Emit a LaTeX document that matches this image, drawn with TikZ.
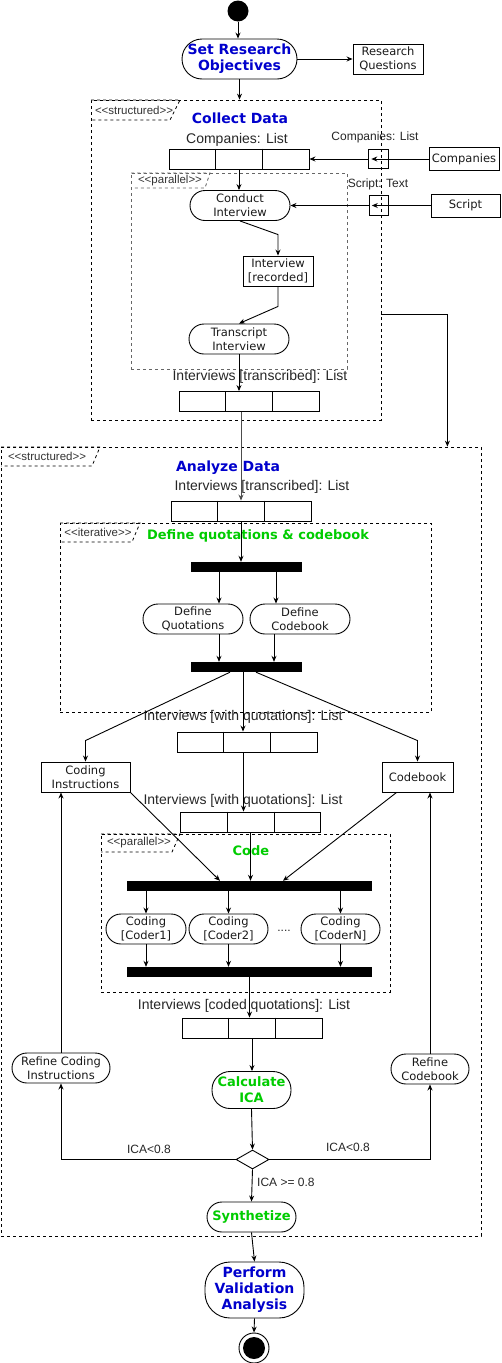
\documentclass[tikz,border=0pt]{standalone}
\usepackage{fontspec}
\setmainfont{Liberation Sans}
\newfontfamily\dv{DejaVu Sans}
\usetikzlibrary{arrows.meta,calc,shapes.geometric}
\definecolor{tblue}{RGB}{0,0,204}
\definecolor{tgreen}{RGB}{0,204,0}
\tikzset{
  base/.style={draw, line width=0.9pt, inner sep=0pt, align=center, text=black!90, font=\dv\fontsize{11.5}{14}\selectfont},
  act/.style={base, rectangle, rounded corners=15pt, minimum height=30pt},
  obj/.style={base, rectangle, minimum height=30pt},
  lst/.style={draw, line width=0.9pt, minimum width=140pt, minimum height=20pt, inner sep=0pt},
  bar/.style={fill=black, draw=none, inner sep=0pt, minimum height=10pt},
  frame/.style={draw, dash pattern=on 3pt off 3pt, line width=0.8pt, inner sep=0pt},
  tagtxt/.style={font=\fontsize{11.5}{12}\selectfont, text=black!80, inner sep=0pt},
  lbl/.style={font=\fontsize{14}{16}\selectfont, inner sep=0pt, text=black!85},
  slbl/.style={font=\fontsize{12}{14}\selectfont, inner sep=0pt, text=black!85},
  bluet/.style={font=\dv\bfseries\fontsize{14}{16}\selectfont, text=tblue},
  greent/.style={font=\dv\bfseries\fontsize{13}{16}\selectfont, text=tgreen},
  arr/.style={-{Stealth[length=6pt,width=5pt]}, line width=0.9pt},
  ln/.style={line width=0.9pt},
}
\newcommand{\mklist}[2]{%
  \node[lst] (#1) at (#2) {};
  \draw[ln] ($(#1.north west)!1/3!(#1.north east)$) -- ($(#1.south west)!1/3!(#1.south east)$);
  \draw[ln] ($(#1.north west)!2/3!(#1.north east)$) -- ($(#1.south west)!2/3!(#1.south east)$);
}
\newcommand{\stereo}[1]{<\kern0pt<#1>\kern0pt>}
\begin{document}
\begin{tikzpicture}[x=1pt,y=-1pt]
\useasboundingbox (0,0) rectangle (501,1363);

% ---------- frames ----------
\node[frame, minimum width=290pt, minimum height=320pt] (cd) at (236,260) {};
\draw[frame] (91,100) -- (180,100) -- (170,120) -- (91,120);
\node[tagtxt] (tagcd) at (134,110) {\stereo{structured}};

\node[frame, draw=black!60, minimum width=216pt, minimum height=196pt] (par1) at (239,271) {};
\draw[frame, draw=black!60] (131,173) -- (210,173) -- (205,188) -- (131,188);
\node[tagtxt] (tagp1) at (170,180.5) {\stereo{parallel}};

\node[frame, minimum width=480pt, minimum height=789pt] (ad) at (241,841.5) {};
\draw[frame] (1,447) -- (100,447) -- (92,466) -- (1,466);
\node[tagtxt] (tagad) at (47,456) {\stereo{structured}};

\node[frame, minimum width=371pt, minimum height=189pt] (it) at (245.5,617.5) {};
\draw[frame] (60,523) -- (140,523) -- (132,542) -- (60,542);
\node[tagtxt] (tagit) at (98,532) {\stereo{iterative}};

\node[frame, minimum width=289pt, minimum height=158pt] (par2) at (245.5,913) {};
\draw[frame] (101,834) -- (180,834) -- (172,852) -- (101,852);
\node[tagtxt] (tagp2) at (139,843) {\stereo{parallel}};

% ---------- top ----------
\node[circle, fill=black, minimum size=21pt, inner sep=0pt] (start) at (238,11) {};
\node[act, rounded corners=20pt, minimum width=115pt, minimum height=40pt, bluet] (sro) at (239.5,59) {Set Research\\Objectives};
\node[obj, minimum width=70pt] (rq) at (388,59) {Research\\Questions};

% ---------- collect data ----------
\node[bluet] (cdt) at (240,118) {Collect Data};
\node[lbl] (lcl) at (237,140) {Companies: List};
\mklist{lc}{239,159}
\node[draw, line width=0.9pt, minimum size=19.5pt, inner sep=0pt] (pin1) at (378.5,159) {};
\node[slbl] (pin1l) at (375,137) {Companies: List};
\node[obj, minimum width=70pt, minimum height=23pt] (comp) at (464,159) {Companies};
\node[draw, line width=0.9pt, minimum size=19.5pt, inner sep=0pt] (pin2) at (379,205.5) {};
\node[slbl] (pin2l) at (378,184) {Script: Text};
\node[obj, minimum width=69pt, minimum height=23pt] (script) at (465.5,205.5) {Script};
\node[act, minimum width=100pt] (conduct) at (240,205.5) {Conduct\\Interview};
\node[obj, minimum width=70pt] (rec) at (278,271) {Interview\\{[recorded]}};
\node[act, minimum width=100pt] (trans) at (239,339) {Transcript\\Interview};
\node[lbl] (ltl) at (260,377) {Interviews [transcribed]: List};
\mklist{lt}{249,401.5}

% ---------- analyze data ----------
\node[bluet] (adt) at (228,468) {Analyze Data};
\node[lbl] (ldl) at (262,487) {Interviews [transcribed]: List};
\mklist{ld}{241,511}
\node[greent] (itt) at (258,536) {Define quotations \& codebook};
\node[bar, minimum width=111pt] (f1) at (246.5,567) {};
\node[act, minimum width=100pt] (dq) at (193,619) {Define\\Quotations};
\node[act, minimum width=100pt] (dc) at (300,619) {Define\\Codebook};
\node[bar, minimum width=111pt] (j1) at (246.5,667) {};

\node[lbl] (l1l) at (243,717) {Interviews [with quotations]: List};
\mklist{l1}{247,742}
\node[obj, minimum width=89pt] (ci) at (85.5,777) {Coding\\Instructions};
\node[obj, minimum width=71pt] (cb) at (417.5,777) {Codebook};
\node[lbl] (l2l) at (243,801) {Interviews [with quotations]: List};
\mklist{l2}{250.5,822}

\node[greent] (codet) at (251,851) {Code};
\node[bar, minimum width=245pt] (f2) at (249.5,886) {};
\node[act, minimum width=80pt] (c1) at (146,929) {Coding\\{[Coder1]}};
\node[act, minimum width=79pt] (c2) at (228.5,929) {Coding\\{[Coder2]}};
\node[slbl] (dots) at (284,931) {....};
\node[act, minimum width=79pt] (cn) at (340.5,929) {Coding\\{[CoderN]}};
\node[bar, minimum width=245pt] (j2) at (249.5,972) {};

\node[lbl] (l3l) at (244,1006) {Interviews [coded quotations]: List};
\mklist{l3}{252,1028}
\node[act, rounded corners=18pt, minimum width=79pt, minimum height=37pt, greent] (ica) at (251.5,1090) {Calculate\\ICA};
\node[act, minimum width=98pt] (rci) at (61,1068) {Refine Coding\\Instructions};
\node[act, minimum width=78pt] (rcb) at (430,1069) {Refine\\Codebook};
\node[draw, diamond, line width=0.9pt, minimum width=33pt, minimum height=19pt, inner sep=0pt] (dia) at (252.5,1159.5) {};
\node[slbl] (ical) at (149,1149) {ICA<0.8};
\node[slbl] (icar) at (348,1147) {ICA<0.8};
\node[slbl, anchor=west] (icad) at (257,1182) {ICA >= 0.8};
\node[act, minimum width=89pt, greent] (syn) at (251.5,1217) {Synthetize};

\node[act, rounded corners=25pt, minimum width=99pt, minimum height=56pt, bluet] (pva) at (254.5,1290) {Perform\\Validation\\Analysis};
\node[circle, draw, line width=0.9pt, minimum size=30pt, inner sep=0pt] (endn) at (254,1348) {};
\fill (endn.center) circle (11pt);

% ---------- connectors ----------
\draw[arr] (start.south) -- (start.south |- sro.north);
\draw[arr] (sro.east) -- (rq.west);
\draw[arr] (sro.south) -- (sro.south |- cd.north);
\draw[arr] (comp.west) -- ([xshift=3pt]pin1.west);
\draw[arr] (pin1.west) -- (lc.east);
\draw[arr] (script.west) -- ([xshift=3pt]pin2.west);
\draw[arr] (pin2.west) -- (conduct.east);
\draw[arr] (lc.south) -- (lc.south |- conduct.north);
\draw[arr] (conduct.south) -- ([yshift=21pt]rec.north) -- (rec.north);
\draw[arr] (rec.south) -- ([yshift=-20pt]rec.south) -- (trans.north);
\draw[arr] (trans.south) -- (trans.south |- lt.north);
\draw[arr, draw=black!70] (ld.north |- lt.south) -- (ld.north);
\draw[arr] ([yshift=-54pt]cd.east) -| ([xshift=-34pt]ad.north east);

\draw[arr] (ld.south) -- (ld.south |- f1.north);
\draw[arr] ([xshift=-27.5pt]f1.south) -- ([xshift=-27.5pt]f1.south |- dq.north);
\draw[arr] ([xshift=29.5pt]f1.south) -- ([xshift=29.5pt]f1.south |- dc.north);
\draw[arr] ([xshift=26pt]dq.south) -- ([xshift=26pt]dq.south |- j1.north);
\draw[arr] ([xshift=-26pt]dc.south) -- ([xshift=-26pt]dc.south |- j1.north);
\draw[arr] ([xshift=-16.5pt]j1.south) -- ([yshift=21pt]ci.north) -- (ci.north);
\draw[arr] ([xshift=-3.5pt]j1.south) -- ([xshift=-3.5pt]j1.south |- l1.north);
\draw[arr] ([xshift=9.5pt]j1.south) -- ([yshift=21pt]cb.north) -- (cb.north);
\draw[arr] ([xshift=-3.5pt]l1.south) -- ([xshift=-3.5pt]l1.south |- l2.north);
\draw[arr] (ci.south east) -- ([xshift=-29.5pt]f2.north);
\draw[arr] (l2.south) -- (l2.south |- f2.north);
\draw[arr] ([xshift=15pt]cb.south west) -- ([xshift=33.5pt]f2.north);
\draw[arr] (c1.north |- f2.south) -- (c1.north);
\draw[arr] (c2.north |- f2.south) -- (c2.north);
\draw[arr] (cn.north |- f2.south) -- (cn.north);
\draw[arr] (c1.south) -- (c1.south |- j2.north);
\draw[arr] (c2.south) -- (c2.south |- j2.north);
\draw[arr] (cn.south) -- (cn.south |- j2.north);
\draw[arr] (j2.south) -- (j2.south |- l3.north);
\draw[arr] (l3.south) -- (l3.south |- ica.north);
\draw[arr] (ica.south) -- (dia.north);
\draw[arr] (dia.west) -| (rci.south);
\draw[arr] (dia.east) -| (rcb.south);
\draw[arr] (dia.south) -- (syn.north);
\draw[arr] (rci.north) -- (rci.north |- ci.south);
\draw[arr] (rcb.north) -- (rcb.north |- cb.south);
\draw[arr] (syn.south) -- (pva.north);
\draw[arr] (pva.south) -- (endn.north);
\end{tikzpicture}
\end{document}
